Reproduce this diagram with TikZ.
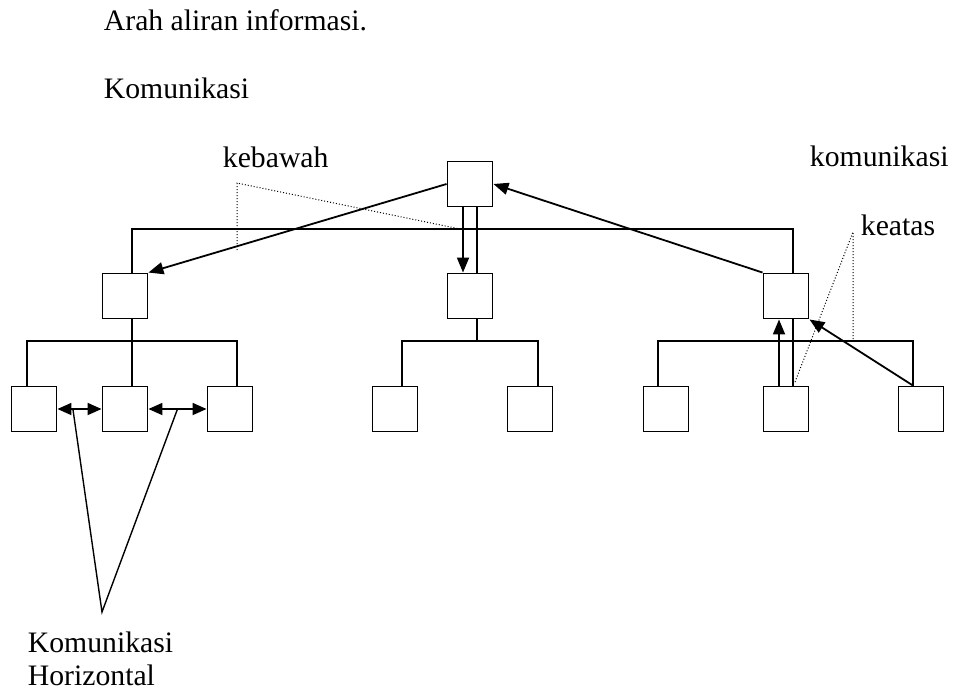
\documentclass[tikz,border=0pt]{standalone}
\usepackage{fontspec}
\setmainfont{Liberation Serif}
\usetikzlibrary{arrows.meta}
\tikzset{
  box/.style={draw, line width=.95pt, minimum size=22.5pt, inner sep=0pt},
  lbl/.style={anchor=base west, inner sep=0pt, font=\fontsize{14.85}{18}\selectfont},
  flow/.style={line width=.9pt, -{Triangle[length=7.5pt,width=6pt]}},
  both/.style={line width=.9pt, {Triangle[length=7pt,width=6pt]}-{Triangle[length=7pt,width=6pt]}},
  hint/.style={line width=.5pt, dash pattern=on .5pt off 1pt},
}

\begin{document}
\begin{tikzpicture}[x=0.5pt, y=-0.5pt, line width=.95pt]
    \useasboundingbox (0,0) rectangle (953,692);
    \node[lbl] (judul) at (103,30) {Arah aliran informasi.};
    \node[lbl] (kom) at (103,98) {Komunikasi};
    \node[lbl] (bawah) at (222,167) {kebawah};
    \node[lbl] (kom2) at (809,166) {komunikasi};
    \node[lbl] (atas) at (860,235) {keatas};
    \node[lbl] (hor1) at (27,652) {Komunikasi};
    \node[lbl] (hor2) at (27,685) {Horizontal};
    \node[box] (top) at (470,184) {};
    \node[box] (lmid) at (125,296) {};
    \node[box] (cmid) at (470,296) {};
    \node[box] (rmid) at (786,296) {};
    \foreach \n/\x in {b1/34,b2/125,b3/230,c1/395,c2/530,r1/666,r2/786,r3/921}
        \node[box] (\n) at (\x,409) {};
    \draw ([xshift=3.5pt]top.south) -- ([xshift=3.5pt]cmid.north);
    \draw ([xshift=3.5pt]lmid.north) -- ++(0,-44) -| ([xshift=3.5pt]rmid.north);
    \draw ([xshift=3.5pt]lmid.south) -- ([xshift=3.5pt]b2.north);
    \draw ([xshift=-3.5pt]b1.north) -- ++(0,-45) -| ([xshift=3.5pt]b3.north);
    \draw ([xshift=3.5pt]cmid.south) -- ++(0,23);
    \draw ([xshift=3.5pt]c1.north) -- ++(0,-45) -| ([xshift=4pt]c2.north);
    \draw ([xshift=3.5pt]rmid.south) -- ([xshift=3.5pt]r2.north);
    \draw ([xshift=-4pt]r1.north) -- ++(0,-45) -| ([xshift=-4pt]r3.north);
    \draw[flow] (top.west) -- (lmid.north east);
    \draw[flow] (rmid.north west) -- (top.east);
    \draw[flow] ([xshift=-3.5pt]top.south) -- ([xshift=-3.5pt]cmid.north);
    \draw[flow] ([xshift=-3.5pt]r2.north) -- ([xshift=-3.5pt]rmid.south);
    \draw[flow] ([xshift=-4pt]r3.north) -- (rmid.south east);
    \draw[both] (b1) -- coordinate[pos=.35] (h1) (b2);
    \draw[both] (b2) -- coordinate[pos=.5] (h2) (b3);
    \coordinate (hz) at (102,612);
    \draw[line width=.7pt] (h1) -- (hz) -- (h2);
    \coordinate (kb) at (237,183);
    \draw[hint] (237,250) -- (kb) -- (460,229);
    \coordinate (ka) at (853,232);
    \draw[hint] (795,382) -- (ka) -- (853,340);
\end{tikzpicture}
\end{document}
